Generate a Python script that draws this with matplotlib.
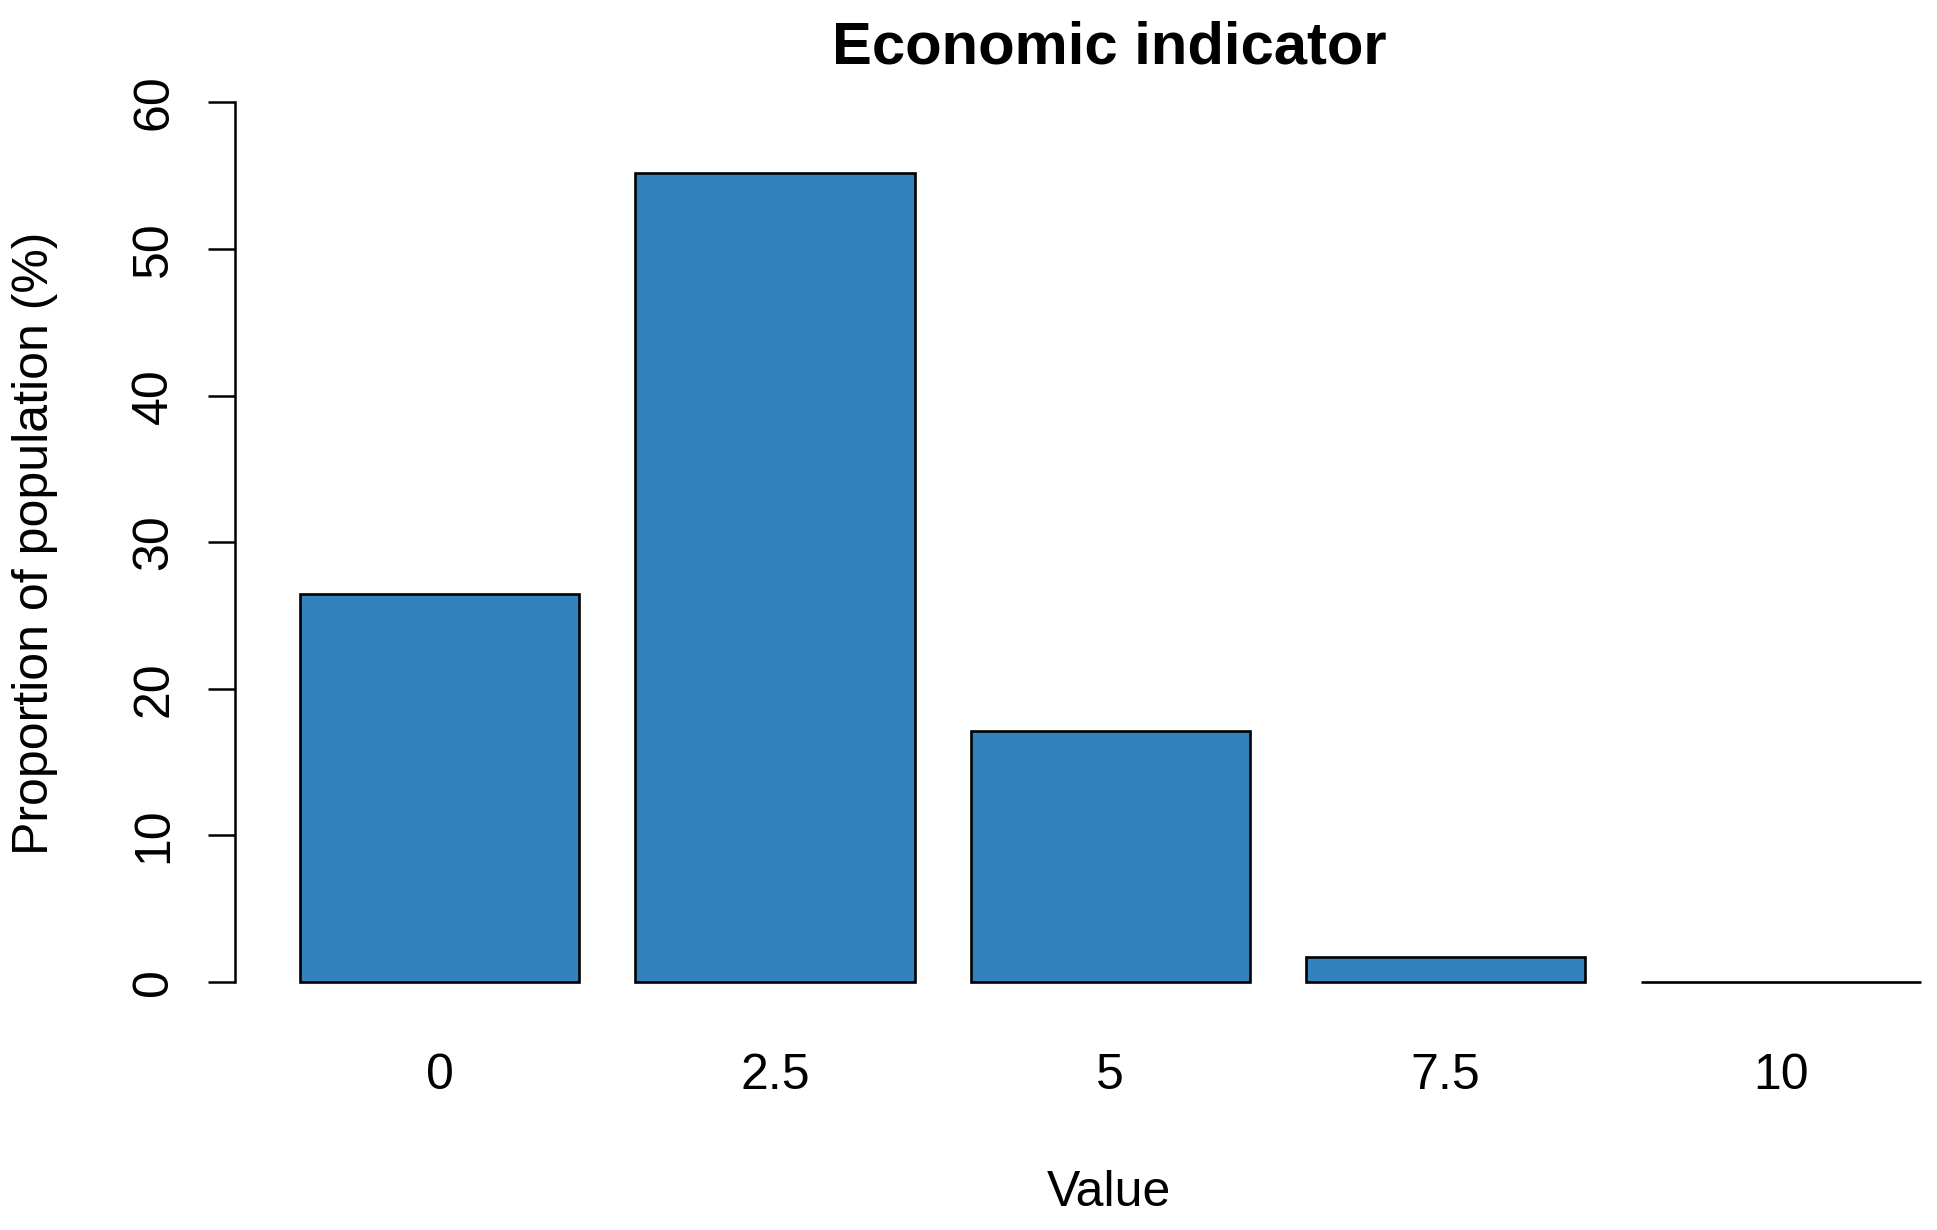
import numpy as np
import matplotlib
matplotlib.use("Agg")
import matplotlib.pyplot as plt

# values
categories = ["0", "2.5", "5", "7.5", "10"]
proportion = [26.5, 55.2, 17.1, 1.7, 0.0]
yticks = [0, 10, 20, 30, 40, 50, 60]

plt.rcParams['font.family'] = ['Liberation Sans', 'DejaVu Sans']

W, H = 1937, 1230
fig = plt.figure(figsize=(W / 100, H / 100), dpi=100)

# axes placed so the R-style barplot geometry lines up
left_px, right_px = 234.7, 1934.6
bot_px, top_px = 1017.2, 67.3
ax = fig.add_axes([left_px / W, 1 - bot_px / H,
                   (right_px - left_px) / W, (bot_px - top_px) / H])

# R barplot: width 1, space 0.2
pos = 0.2 + np.arange(len(categories)) * 1.2 + 0.5
ax.bar(pos, proportion, width=1.0, color="#3182BD", edgecolor="black",
       linewidth=1.9)

ax.set_xlim(-0.034, 6.05)
ax.set_ylim(-2.4, 62.4)

for s in ["top", "right", "bottom"]:
    ax.spines[s].set_visible(False)
ax.spines["left"].set_bounds(0, 60)
ax.spines["left"].set_linewidth(1.8)

ax.set_yticks(yticks)
ax.set_yticklabels([str(v) for v in yticks], rotation=90, va="center")
ax.tick_params(axis="y", length=19.5, width=1.8, pad=22, labelsize=36)
ax.set_xticks(pos)
ax.set_xticklabels(categories)
ax.tick_params(axis="x", length=0, pad=25.5, labelsize=36)

fig.text(1109 / W, 1 - 48.5 / H, "Economic indicator", ha="center",
         va="center", fontsize=43, fontweight="bold")
fig.text(1109 / W, 1 - 1193 / H, "Value", ha="center", va="center",
         fontsize=36)
fig.text(34.6 / W, 1 - 543.5 / H, "Proportion of population (%)",
         ha="center", va="center", rotation=90, fontsize=36)

fig.savefig("out.png", dpi=100, facecolor="white")
